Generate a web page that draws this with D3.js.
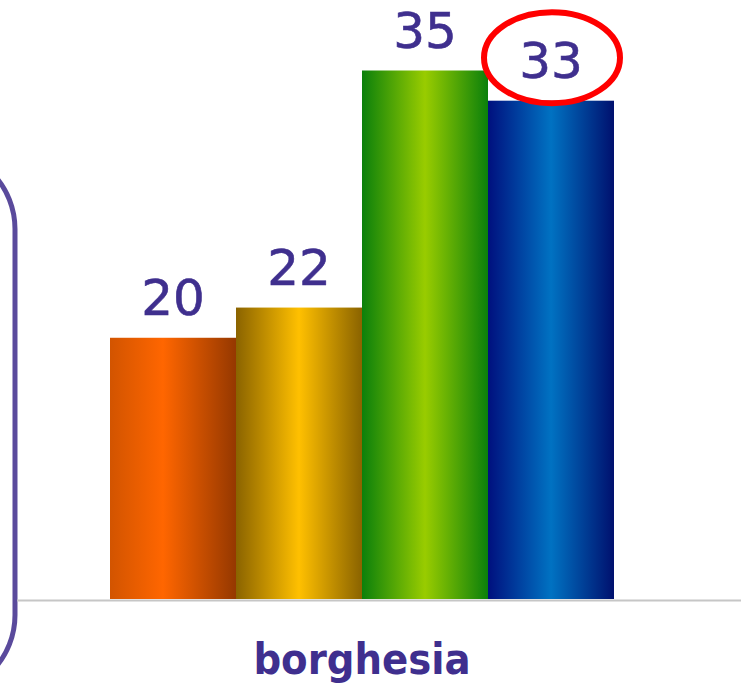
<!DOCTYPE html>
<html>
<head>
<meta charset="utf-8">
<script src="https://cdn.jsdelivr.net/npm/d3@7"></script>
<style>
  html, body { margin: 0; padding: 0; background: #ffffff; }
  svg { display: block; }
</style>
</head>
<body>
<svg id="chart" width="741" height="685"></svg>
<script>
// ---- data ----
const category = "borghesia";
const seriesNames = ["s1", "s2", "s3", "s4"];
const values = [17.3, 19.3, 35, 33];          // bar heights as drawn
const labels = ["20", "22", "35", "33"];      // printed data labels
const highlighted = ["s4"];
const gradStops = [
  [["0%", "#d25400"], ["42%", "#ff6600"], ["100%", "#953800"]],
  [["0%", "#8a6300"], ["50%", "#ffc000"], ["100%", "#8a6300"]],
  [["0%", "#0b800b"], ["50%", "#99cc00"], ["100%", "#0b800b"]],
  [["0%", "#00107e"], ["50%", "#0072c2"], ["100%", "#00106e"]]
];

const svg = d3.select("#chart");
const W = 741, H = 685;
const baseY = 599;

const defs = svg.append("defs");
gradStops.forEach((stops, i) => {
  const g = defs.append("linearGradient")
    .attr("id", "g" + i).attr("x1", "0%").attr("x2", "100%").attr("y1", "0%").attr("y2", "0%");
  stops.forEach(s => g.append("stop").attr("offset", s[0]).attr("stop-color", s[1]));
});

// decorative rounded box at left
svg.append("rect")
  .attr("x", -300).attr("y", 149).attr("width", 315).attr("height", 546)
  .attr("rx", 80).attr("ry", 80)
  .attr("fill", "none").attr("stroke", "#5a4a9c").attr("stroke-width", 5);

const x0 = d3.scaleBand().domain([category]).range([110, 614]).padding(0);
const x1 = d3.scaleBand().domain(seriesNames).range([0, x0.bandwidth()]).padding(0);
const y = d3.scaleLinear().domain([0, 35]).range([baseY, 70.5]);

// axis line
svg.append("line")
  .attr("x1", 17).attr("x2", W).attr("y1", baseY + 1.5).attr("y2", baseY + 1.5)
  .attr("stroke", "#c6c6c6").attr("stroke-width", 2);

const gCat = svg.append("g").attr("transform", `translate(${x0(category)},0)`);

gCat.selectAll("rect.bar")
  .data(values)
  .join("rect")
  .attr("class", "bar")
  .attr("x", (d, i) => x1(seriesNames[i]))
  .attr("width", x1.bandwidth())
  .attr("y", d => y(d))
  .attr("height", d => y(0) - y(d))
  .attr("fill", (d, i) => `url(#g${i})`);

gCat.selectAll("text.lbl")
  .data(values)
  .join("text")
  .attr("class", "lbl")
  .attr("x", (d, i) => x1(seriesNames[i]) + x1.bandwidth() / 2)
  .attr("y", d => y(d) - 23)
  .attr("text-anchor", "middle")
  .attr("font-family", "DejaVu Sans, Verdana, sans-serif")
  .attr("font-size", 50)
  .attr("fill", "#3f2f8e")
  .attr("stroke", "#3f2f8e").attr("stroke-width", 0.6)
  .text((d, i) => labels[i]);

// highlight ellipse
gCat.selectAll("ellipse.hl")
  .data(highlighted)
  .join("ellipse")
  .attr("class", "hl")
  .attr("cx", d => x1(d) + x1.bandwidth() / 2 + 1)
  .attr("cy", d => y(values[seriesNames.indexOf(d)]) - 43)
  .attr("rx", 68).attr("ry", 45.5)
  .attr("fill", "none").attr("stroke", "#ff0000").attr("stroke-width", 6);

// category label
svg.append("text")
  .attr("x", x0(category) + x0.bandwidth() / 2)
  .attr("y", 674)
  .attr("text-anchor", "middle")
  .attr("font-family", "DejaVu Sans Condensed, DejaVu Sans, sans-serif")
  .attr("font-weight", "bold")
  .attr("font-size", 43)
  .attr("fill", "#3f2f8e")
  .text(category);
</script>
</body>
</html>
